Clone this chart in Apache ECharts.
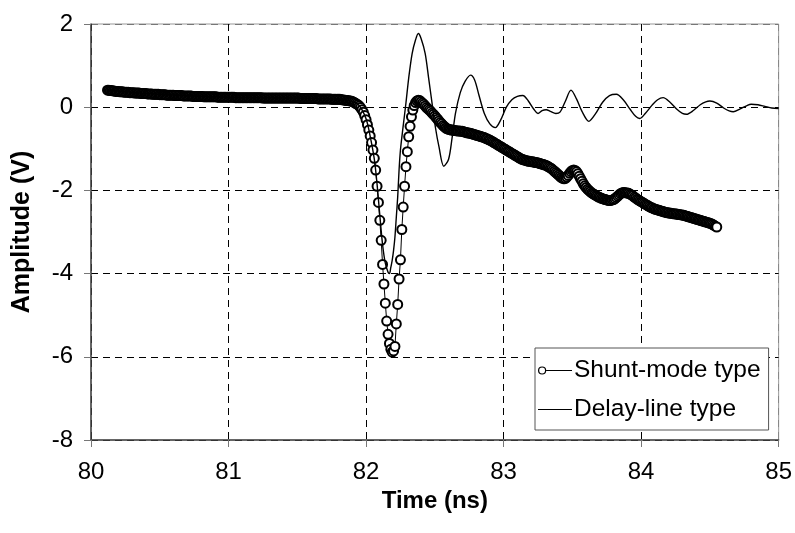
<!DOCTYPE html>
<html>
<head>
<meta charset="utf-8">
<script src="https://cdn.jsdelivr.net/npm/echarts@6/dist/echarts.min.js"></script>
<style>html,body{margin:0;padding:0;background:#fff}#c{width:795px;height:533px}</style>
</head>
<body>
<div id="c"></div>
<script>
// Shunt-mode type: samples every 0.01 ns starting at 80.12 ns
var shuntStart = 80.12;
var shuntStep = 0.01;
var shuntAmp = [
0.41,0.41,0.40,0.40,0.39,0.39,0.38,0.38,
0.38,0.37,0.37,0.37,0.36,0.36,0.36,0.36,0.35,0.35,
0.35,0.35,0.34,0.34,0.34,0.34,0.33,0.33,0.33,0.33,
0.33,0.32,0.32,0.32,0.32,0.31,0.31,0.31,0.31,0.31,
0.30,0.30,0.30,0.30,0.30,0.29,0.29,0.29,0.29,0.29,
0.29,0.28,0.28,0.28,0.28,0.28,0.28,0.27,0.27,0.27,
0.27,0.27,0.27,0.27,0.26,0.26,0.26,0.26,0.26,0.26,
0.26,0.26,0.25,0.25,0.25,0.25,0.25,0.25,0.25,0.25,
0.25,0.25,0.24,0.24,0.24,0.24,0.24,0.24,0.24,0.24,
0.24,0.24,0.24,0.24,0.24,0.23,0.23,0.23,0.23,0.23,
0.23,0.23,0.23,0.23,0.23,0.23,0.23,0.23,0.23,0.23,
0.23,0.23,0.23,0.23,0.23,0.22,0.22,0.22,0.22,0.22,
0.22,0.22,0.22,0.22,0.22,0.22,0.22,0.22,0.22,0.22,
0.22,0.22,0.22,0.22,0.22,0.22,0.22,0.22,0.22,0.22,
0.22,0.22,0.21,0.21,0.21,0.21,0.21,0.21,0.21,0.21,
0.21,0.21,0.21,0.21,0.21,0.20,0.20,0.20,0.20,0.20,
0.20,0.20,0.20,0.20,0.20,0.19,0.19,0.19,0.19,0.19,
0.19,0.19,0.18,0.18,0.17,0.17,0.16,0.16,0.15,0.15,
0.14,0.12,0.10,0.08,0.06,0.03,-0.01,-0.06,-0.12,-0.20,
-0.30,-0.42,-0.55,-0.69,-0.85,-1.03,-1.23,-1.51,-1.90,-2.29,
-2.72,-3.20,-3.78,-4.25,-4.71,-5.14,-5.46,-5.68,-5.82,-5.89,
-5.86,-5.75,-5.21,-4.74,-4.13,-3.67,-2.94,-2.40,-1.90,-1.43,
-1.07,-0.71,-0.46,-0.23,-0.07,0.04,0.11,0.15,0.17,0.16,
0.13,0.10,0.07,0.03,-0.01,-0.04,-0.07,-0.10,-0.14,-0.17,
-0.21,-0.25,-0.29,-0.33,-0.37,-0.40,-0.44,-0.47,-0.50,-0.52,
-0.53,-0.54,-0.55,-0.55,-0.56,-0.56,-0.57,-0.57,-0.57,-0.58,
-0.58,-0.59,-0.60,-0.61,-0.62,-0.62,-0.63,-0.64,-0.65,-0.66,
-0.67,-0.68,-0.69,-0.70,-0.71,-0.72,-0.73,-0.75,-0.76,-0.78,
-0.79,-0.81,-0.83,-0.85,-0.87,-0.89,-0.91,-0.93,-0.95,-0.97,
-0.99,-1.01,-1.03,-1.05,-1.07,-1.09,-1.11,-1.13,-1.15,-1.17,
-1.19,-1.21,-1.23,-1.25,-1.26,-1.27,-1.28,-1.29,-1.30,-1.30,
-1.31,-1.31,-1.32,-1.33,-1.33,-1.34,-1.35,-1.36,-1.37,-1.38,
-1.39,-1.40,-1.42,-1.44,-1.46,-1.48,-1.51,-1.54,-1.57,-1.60,
-1.63,-1.66,-1.69,-1.71,-1.72,-1.71,-1.68,-1.64,-1.59,-1.55,
-1.52,-1.51,-1.52,-1.55,-1.60,-1.66,-1.72,-1.78,-1.84,-1.89,
-1.93,-1.97,-2.00,-2.03,-2.06,-2.08,-2.10,-2.12,-2.14,-2.16,
-2.17,-2.19,-2.20,-2.21,-2.22,-2.23,-2.24,-2.24,-2.24,-2.23,
-2.22,-2.20,-2.17,-2.14,-2.11,-2.08,-2.06,-2.05,-2.05,-2.06,
-2.06,-2.07,-2.09,-2.11,-2.13,-2.16,-2.18,-2.21,-2.23,-2.25,
-2.27,-2.29,-2.31,-2.33,-2.35,-2.37,-2.39,-2.41,-2.42,-2.44,
-2.45,-2.46,-2.47,-2.48,-2.49,-2.50,-2.51,-2.52,-2.53,-2.54,
-2.54,-2.55,-2.55,-2.56,-2.56,-2.57,-2.57,-2.58,-2.58,-2.59,
-2.59,-2.60,-2.61,-2.62,-2.63,-2.64,-2.65,-2.66,-2.67,-2.68,
-2.69,-2.70,-2.71,-2.72,-2.73,-2.74,-2.75,-2.76,-2.77,-2.78,
-2.79,-2.80,-2.82,-2.84,-2.86,-2.88
];

// Delay-line type
var delayTime = [80.12,80.5,81.0,81.5,81.8,81.9,81.95,82.0,82.03,82.06,82.08,82.10,82.12,82.14,82.16,82.17,82.18,82.19,82.20,82.21,82.22,82.23,82.24,82.25,82.27,82.29,82.31,82.335,82.36,82.38,82.40,82.43,82.455,82.48,82.505,82.53,82.565,82.60,82.625,82.65,82.685,82.72,82.76,82.79,82.82,82.86,82.90,82.94,82.98,83.02,83.06,83.10,83.14,83.18,83.22,83.25,83.28,83.31,83.34,83.38,83.41,83.45,83.49,83.53,83.57,83.62,83.67,83.72,83.77,83.82,83.87,83.92,83.96,83.99,84.03,84.08,84.12,84.16,84.21,84.26,84.30,84.33,84.38,84.43,84.47,84.50,84.55,84.60,84.64,84.67,84.72,84.77,84.80,84.85,84.90,84.95,85.0];
var delayAmp = [0.41,0.31,0.24,0.22,0.19,0.14,0.04,-0.28,-0.7,-1.25,-1.85,-2.6,-3.3,-3.75,-3.97,-4.0,-3.85,-3.68,-3.44,-3.12,-2.64,-2.16,-1.51,-1.03,-0.45,0.1,0.7,1.29,1.62,1.77,1.65,1.29,0.7,0.09,-0.5,-0.95,-1.42,-1.25,-0.75,-0.15,0.35,0.62,0.77,0.65,0.3,-0.15,-0.4,-0.49,-0.3,0.0,0.18,0.26,0.28,0.15,-0.05,-0.15,-0.08,-0.06,-0.1,-0.15,-0.12,0.15,0.41,0.2,-0.1,-0.34,-0.15,0.12,0.28,0.31,0.18,-0.05,-0.22,-0.27,-0.15,0.05,0.18,0.23,0.12,-0.05,-0.15,-0.17,-0.08,0.06,0.13,0.15,0.1,-0.02,-0.09,-0.11,-0.04,0.04,0.07,0.06,0.02,-0.02,-0.03];

var xTicks = [80, 81, 82, 83, 84, 85];
var yTicks = [-8, -6, -4, -2, 0, 2];
var seriesNames = ['Shunt-mode type', 'Delay-line type'];

var shuntData = shuntAmp.map(function (v, i) { return [+(shuntStart + i * shuntStep).toFixed(2), v]; });
var delayData = delayTime.map(function (t, i) { return [t, delayAmp[i]]; });

// legend icons: hollow circle at the left of a line, and a plain line
var ICON_SHUNT = 'path://M1,5A4,4 0 1,0 9,5A4,4 0 1,0 1,5ZM2.2,5A2.8,2.8 0 1,1 7.8,5A2.8,2.8 0 1,1 2.2,5ZM9,4.5L34,4.5L34,5.5L9,5.5Z';
var ICON_LINE = 'path://M0,4.5L34,4.5L34,5.5L0,5.5Z';
var ICON_STYLE = {color: '#000', borderWidth: 0};

var FONT = 'Liberation Sans, Arial, sans-serif';
var chart = echarts.init(document.getElementById('c'), null, {renderer: 'canvas'});
chart.setOption({
  animation: false,
  backgroundColor: '#fff',
  grid: {left: 91, right: 14, top: 24, bottom: 93, show: true, borderColor: '#999', borderWidth: 1, backgroundColor: 'transparent'},
  xAxis: {
    type: 'value', min: xTicks[0], max: xTicks[xTicks.length - 1], interval: 1,
    name: 'Time (ns)', nameLocation: 'middle', nameGap: 37,
    nameTextStyle: {fontFamily: FONT, fontSize: 24, fontWeight: 'bold', color: '#000'},
    axisLine: {show: true, onZero: false, lineStyle: {color: '#444', width: 1.5}},
    axisTick: {show: true, inside: false, length: 7, lineStyle: {color: '#777'}},
    axisLabel: {fontFamily: FONT, fontSize: 24, color: '#000', margin: 20},
    splitLine: {show: true, lineStyle: {color: ['#000', '#000', '#000', '#000', '#000', '#888'], type: [7, 5], width: 1}}
  },
  yAxis: {
    type: 'value', min: yTicks[0], max: yTicks[yTicks.length - 1], interval: 2,
    name: 'Amplitude (V)', nameLocation: 'middle', nameGap: 56,
    nameTextStyle: {fontFamily: FONT, fontSize: 25, fontWeight: 'bold', color: '#000'},
    axisLine: {show: true, onZero: false, lineStyle: {color: '#444', width: 1.5}},
    axisTick: {show: true, inside: false, length: 7, lineStyle: {color: '#777'}},
    axisLabel: {fontFamily: FONT, fontSize: 24, color: '#000', margin: 18},
    splitLine: {show: true, lineStyle: {color: ['#000', '#000', '#000', '#000', '#000', '#777'], type: [7, 5], width: 1}}
  },
  legend: {
    orient: 'vertical', left: 535, top: 348, itemGap: 14,
    itemWidth: 34, itemHeight: 10,
    backgroundColor: '#fff', borderColor: '#555', borderWidth: 1,
    padding: [10, 8, 8, 3],
    textStyle: {fontFamily: FONT, fontSize: 24.5, color: '#000', padding: [0, 0, 0, -3]},
    data: [
      {name: seriesNames[0], icon: ICON_SHUNT, itemStyle: ICON_STYLE, lineStyle: {width: 0}},
      {name: seriesNames[1], icon: ICON_LINE, itemStyle: ICON_STYLE, lineStyle: {width: 0}}
    ]
  },
  series: [
    {
      name: seriesNames[0], type: 'line', data: shuntData,
      symbol: 'emptyCircle', symbolSize: 9, showSymbol: true, showAllSymbol: true,
      lineStyle: {color: '#000', width: 1},
      itemStyle: {color: '#000', borderColor: '#000', borderWidth: 1.3},
      z: 3
    },
    {
      name: seriesNames[1], type: 'line', data: delayData,
      smooth: 0.3, symbol: 'none', showSymbol: false,
      lineStyle: {color: '#000', width: 1.4},
      itemStyle: {color: '#000'},
      z: 4
    }
  ]
});
</script>
</body>
</html>
